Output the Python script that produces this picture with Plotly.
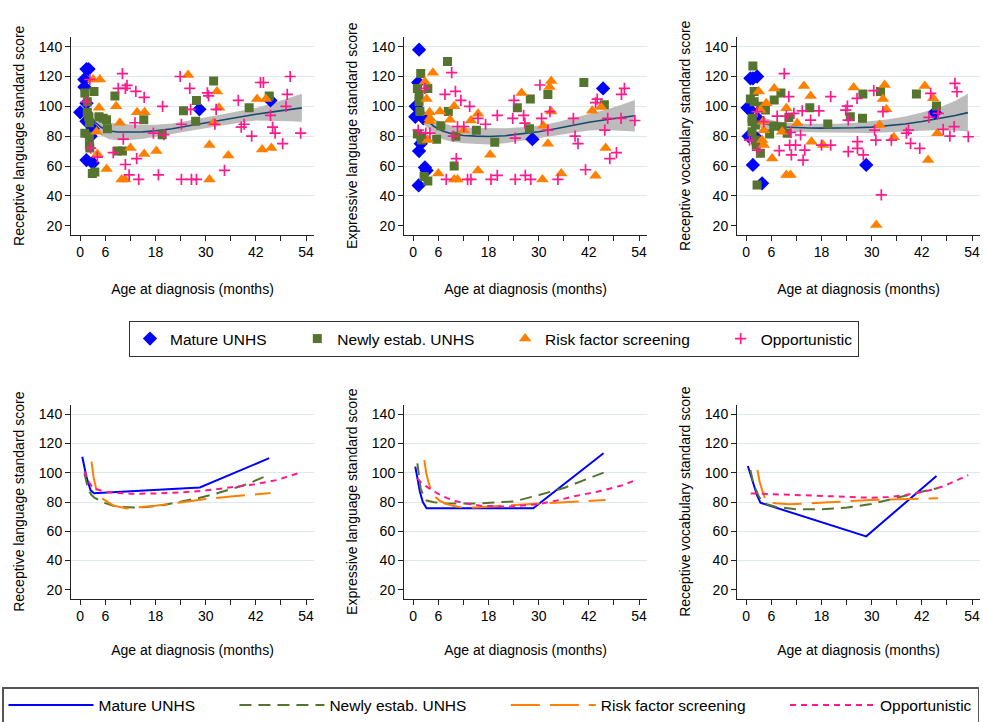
import plotly.graph_objects as go

# ---------------- data ----------------
GROUPS = ["Mature UNHS", "Newly estab. UNHS", "Risk factor screening", "Opportunistic"]
AGE_TICKS = [0, 6, 12, 18, 24, 30, 36, 42, 48, 54]
AGE_TICK_TEXT = ["0", "6", "", "18", "", "30", "", "42", "", "54"]
SCORE_TICKS = [20, 40, 60, 80, 100, 120, 140]
GRID_VALUES = [40, 60, 80, 100, 120, 140]
Y_TITLES = ["Receptive language standard score",
            "Expressive language standard score",
            "Receptive vocabulary standard score"]

# --- Receptive language: individual scores ---
RL_MATURE_X = [1.5, 2.0, 1.0, 1.0, 1.5, 0.0, 1.5, 2.5, 3.0, 1.5, 3.0, 28.5, 45.5]
RL_MATURE_Y = [125, 125, 118, 113, 102, 96, 90, 80, 85, 64, 62, 98, 104]
RL_NEWLY_X = [1.1, 3.3, 1.7, 1.7, 2.0, 2.2, 1.1, 2.2, 2.2, 2.3, 2.9, 3.5, 4.5, 5.5, 6.3, 6.5, 8.3, 8.9,
              10.1, 15.2, 19.6, 24.7, 27.6, 27.8, 31.9, 40.4, 45.2]
RL_NEWLY_Y = [109, 110, 103, 96, 93, 89, 82, 80, 74, 72, 55, 56, 93, 92, 91, 85, 107, 70,
              70, 91, 81, 97, 90, 104, 117, 99, 107]
RL_RISK_X = [3.1, 4.7, 4.5, 3.9, 4.1, 6.3, 8.6, 9.5, 9.9, 10.7, 12.0, 13.6, 15.4, 15.3, 18.2, 25.8,
             30.9, 30.9, 31.9, 32.7, 33.2, 35.4, 42.3, 44.4, 43.5, 45.7]
RL_RISK_Y = [118, 118, 99, 83, 68, 58, 100, 89, 51, 51, 72, 96, 96, 68, 70, 121,
             74, 51, 89, 110, 99, 67, 105, 105, 71, 72]
RL_OPP_X = [2.3, 1.4, 2.5, 4.1, 7.9, 9.1, 10.1, 10.8, 11.2, 10.3, 10.8, 11.7, 13.1, 13.3, 13.5, 14.0,
            15.3, 17.5, 18.7, 19.7, 20.0, 23.9, 24.2, 24.2, 26.2, 26.4, 26.6, 27.8, 30.4, 30.7,
            32.2, 32.5, 34.5, 37.8, 38.5, 39.2, 41.0, 43.1, 43.8, 45.5, 46.0, 46.6, 48.4, 49.2,
            49.5, 50.2, 52.7]
RL_OPP_Y = [118, 103, 72, 66, 69, 112, 122, 112, 114, 78, 61, 54, 89, 110, 65, 51,
            106, 82, 54, 100, 81, 120, 88, 51, 112, 98, 51, 51, 109, 107,
            88, 98, 57, 104, 86, 88, 80, 116, 116, 94, 86, 82, 75, 100,
            108, 120, 82]

# --- Expressive language: individual scores ---
EL_MATURE_X = [1.4, 1.2, 0.6, 0.5, 2.4, 1.4, 1.8, 2.8, 3.2, 1.3, 28.5, 45.4]
EL_MATURE_Y = [138, 116, 100, 93, 92, 70, 75, 59, 57, 47, 78, 112]
EL_NEWLY_X = [8.2, 1.8, 1.0, 1.4, 1.4, 1.6, 3.5, 1.0, 1.8, 2.0, 2.6, 3.5, 5.6, 6.6, 8.4, 10.2, 9.8,
              15.1, 19.5, 24.9, 28.0, 27.8, 32.2, 40.8, 45.7]
EL_NEWLY_Y = [130, 122, 112, 108, 103, 96.5, 112, 81.5, 80, 77.5, 53, 50, 78, 87, 96.5, 80, 60,
              84, 76, 99, 105, 85, 108, 116, 101]
EL_RISK_X = [2.8, 4.7, 3.2, 3.9, 4.0, 3.9, 3.5, 6.4, 6.0, 8.8, 9.8, 9.8, 10.6, 12.1, 13.8, 15.5,
             15.5, 18.4, 25.9, 30.9, 31.1, 32.2, 32.6, 33.0, 33.0, 35.4, 42.8, 43.6, 44.9, 46.0]
EL_RISK_Y = [116.5, 122.6, 105, 96, 92, 90, 77.5, 96.5, 55, 91, 100, 51, 51, 84, 90.5, 95,
             57, 67.5, 109, 51, 87, 75, 113, 117, 96.5, 55, 97, 53.5, 99.5, 72]
EL_OPP_X = [1.2, 2.8, 3.0, 4.0, 7.6, 7.9, 9.2, 9.6, 10.1, 10.3, 10.6, 11.4, 12.1, 13.0, 13.5, 13.8,
            15.5, 17.3, 18.6, 20.1, 20.1, 23.8, 24.1, 24.4, 24.4, 26.4, 26.7, 26.8, 28.1, 30.3,
            30.7, 32.2, 32.7, 34.6, 38.3, 38.7, 39.4, 41.2, 43.6, 44.0, 45.8, 46.5, 47.0, 48.6,
            49.7, 49.8, 50.5, 53.0]
EL_OPP_Y = [84, 112, 82, 82, 108, 51, 122.6, 80, 110, 65, 86.5, 104, 86.5, 51, 100, 51,
            92, 88, 51, 94, 53.7, 92, 104, 51, 78.7, 94, 88.7, 53.7, 51, 114.3,
            92, 84, 96.5, 51, 92, 80, 75, 57.5, 102.5, 104.8, 84, 92, 65, 69,
            92, 108, 112, 90.5]

# --- Receptive vocabulary: individual scores ---
RV_MATURE_X = [1.0, 1.6, 2.6, 0.3, 1.0, 2.7, 0.6, 2.6, 1.6, 3.8, 28.7, 45.1]
RV_MATURE_Y = [118.8, 118.8, 120, 99, 97.5, 92, 80, 78.5, 60.7, 48.4, 60.7, 95.8]
RV_NEWLY_X = [1.6, 1.9, 1.0, 1.9, 3.4, 4.6, 1.4, 1.4, 2.2, 1.4, 2.2, 2.4, 3.4, 2.6, 5.6, 6.6, 6.7,
              8.3, 8.6, 9.8, 10.2, 15.2, 19.5, 24.9, 27.8, 27.9, 32.1, 40.7, 45.5]
RV_NEWLY_Y = [127, 110, 105, 103, 100, 97.5, 92, 89.7, 87.5, 83, 77.4, 74, 68.5, 47.3, 81.5, 86.8,
              104.2, 109, 86.4, 82, 92.6, 99, 88.2, 93, 92, 108.3, 110, 108.3, 100.2]
RV_RISK_X = [3.0, 3.4, 4.0, 4.2, 3.8, 4.2, 4.8, 6.2, 6.7, 8.6, 9.6, 9.6, 10.6, 12.2, 13.8, 15.4,
             15.6, 18.4, 25.7, 31.1, 31.9, 32.7, 33.1, 33.5, 35.3, 42.7, 43.5, 44.7, 45.7]
RV_RISK_Y = [110, 97.5, 89.7, 84, 77.4, 74, 102, 65, 112, 83, 98.7, 54, 54, 88.6, 113.6, 107,
             76.3, 74, 112.7, 20.4, 87.5, 105, 114.3, 98, 79.2, 113.6, 64, 105.4, 82]
RV_OPP_X = [0.8, 2.6, 2.7, 4.2, 7.4, 7.9, 9.1, 9.6, 10.2, 10.6, 10.4, 10.8, 11.4, 11.8, 13.0, 13.4,
            13.6, 14.0, 15.4, 17.4, 18.0, 20.2, 20.2, 23.8, 24.2, 24.4, 24.4, 26.6, 26.6, 26.5,
            28.0, 30.5, 30.7, 31.0, 32.3, 32.7, 34.7, 38.3, 38.8, 39.3, 41.5, 43.7, 44.1, 45.9,
            47.1, 48.7, 49.7, 49.9, 50.4, 53.1]
RV_OPP_Y = [77.4, 96.4, 70.7, 89.7, 93.5, 70.3, 122, 93.5, 106.5, 82.6, 74, 67.4, 95.3, 74, 80.8, 97,
            64, 70.7, 90.8, 97, 74, 74, 106.5, 97.5, 100.2, 90.8, 69.6, 76.3, 71.8, 105.4,
            67.4, 110.5, 84, 77.4, 40.6, 96.4, 77.4, 82, 84, 75.2, 71.8, 92.6, 108.7, 95.3,
            84.6, 80, 86.4, 115.4, 109.8, 79.6]

# --- overall fitted curve with 95% CI (top row) ---
FIT_X = [2.5, 3.5, 5, 7, 9, 12, 15, 18, 22, 26, 30, 34, 38, 42, 46, 50, 53]
RL_FIT = [93, 89.5, 86, 83.5, 82.8, 82.6, 82.9, 83.6, 85, 87, 89, 91, 92.8, 94.7, 96.3, 97.9, 99]
RL_LO = [88, 84.5, 80.5, 78, 77.3, 77.5, 78.3, 79.5, 81.5, 83.5, 85.5, 87.5, 89, 90.5, 90.5, 90, 89.6]
RL_HI = [98, 94.5, 91.5, 89, 88.3, 87.7, 87.5, 87.7, 88.5, 90.5, 92.5, 94.5, 96.6, 98.9, 102.1, 105.8, 108.4]
EL_FIT = [93, 90, 86.5, 83.5, 81.8, 80.5, 80, 79.8, 80.3, 81.5, 83, 85, 87.2, 89.3, 91, 92.5, 93.7]
EL_LO = [88, 85.5, 81.5, 78, 76.5, 75.2, 74.6, 74.4, 75.3, 77, 79, 80.8, 82.4, 83.8, 84.2, 83.8, 83.2]
EL_HI = [98, 94.5, 91.5, 89, 87.1, 85.8, 85.4, 85.2, 85.3, 86, 87, 89.2, 92, 94.8, 97.8, 101.2, 104.2]
RV_FIT = [91, 89.5, 88, 86.8, 86.2, 85.7, 85.5, 85.4, 85.4, 85.6, 86.1, 87, 88.2, 89.8, 91.6, 93.8, 95.8]
RV_LO = [86.5, 85.5, 84.3, 83.4, 83, 82.8, 82.7, 82.6, 82.4, 82.2, 82.2, 82.6, 83.2, 83.8, 84.2, 83.8, 83.2]
RV_HI = [95.5, 93.5, 91.7, 90.2, 89.4, 88.6, 88.3, 88.2, 88.4, 89, 90, 91.4, 93.2, 95.8, 99, 103.8, 108.4]

# --- group-specific fitted curves (bottom row) ---
RL_L_MATURE_X = [0.5, 1.5, 2.5, 3.3, 28.6, 45.2]
RL_L_MATURE_Y = [111, 97, 88, 86, 90, 110]
RL_L_NEWLY_X = [1.0, 1.5, 2.0, 2.7, 3.5, 4.7, 6, 7.9, 10, 13, 16, 20, 24, 28, 32, 36, 40, 45]
RL_L_NEWLY_Y = [99.5, 93, 88, 84.8, 82.8, 80.9, 79.2, 77.4, 76.6, 76.3, 76.6, 78, 80, 82.5, 85.3, 88.6, 92.3, 98.5]
RL_L_RISK_X = [2.7, 3.2, 3.9, 4.6, 5.5, 7, 8, 11.1, 14, 18, 24, 29.9, 36, 42, 45.5]
RL_L_RISK_Y = [107.6, 97, 88, 84.5, 82, 79, 77.5, 75.6, 76.2, 77.5, 79.7, 82, 83.7, 85.2, 86.2]
RL_L_OPP_X = [1.0, 2, 3.1, 4.5, 6, 9, 11.9, 18, 24, 29.9, 36, 41.4, 47, 52]
RL_L_OPP_Y = [101, 94, 89.4, 88, 87, 86.2, 85.7, 85.8, 86.5, 87.8, 89.8, 92, 95, 99.6]

EL_L_MATURE_X = [0.5, 1, 1.6, 2.3, 3.2, 28.7, 45.5]
EL_L_MATURE_Y = [104.2, 95, 87, 80, 75.7, 75.7, 113.3]
EL_L_NEWLY_X = [1, 1.4, 1.8, 2.5, 3.2, 5, 8, 15, 24.1, 30.1, 36.2, 45.7]
EL_L_NEWLY_Y = [106.5, 96, 89, 84, 81, 79.8, 79, 79, 80.4, 84.8, 89.8, 100.3]
EL_L_RISK_X = [2.65, 3.1, 3.6, 4.3, 5.2, 6.3, 7.6, 9.5, 11.7, 15, 20.1, 30, 38, 46]
EL_L_RISK_Y = [108.7, 100, 94, 88, 83.6, 81, 79, 77.5, 76.3, 76.2, 77.3, 79, 80.3, 81.4]
EL_L_OPP_X = [1, 2, 3.2, 4.5, 6, 8, 10, 13, 16, 20, 24, 30.1, 34, 38, 42, 45.8, 50, 53.2]
EL_L_OPP_Y = [96.2, 93, 90.5, 88, 85.5, 82.8, 80.7, 78.8, 77.5, 76.9, 77, 78.6, 80.8, 83.6, 86, 88.2, 91.5, 95]

RV_L_MATURE_X = [0.4, 1.2, 1.9, 2.6, 3.4, 28.7, 45.5]
RV_L_MATURE_Y = [104.6, 97, 90.5, 84.5, 79.5, 56.5, 97.8]
RV_L_NEWLY_X = [1, 1.6, 2.2, 3, 3.8, 5, 7, 9.5, 12.2, 17.8, 24.2, 29.9, 36.3, 41.9, 45.7]
RV_L_NEWLY_Y = [101.9, 94, 89.3, 84, 80.2, 78.5, 76.8, 75.7, 75, 75, 76.3, 78.6, 83.2, 87, 89.4]
RV_L_RISK_X = [2.7, 3.2, 3.8, 4.2, 4.6, 5.5, 7, 10.2, 15, 19.8, 29.9, 38, 45.9]
RV_L_RISK_Y = [101.9, 94, 88.2, 84, 81.4, 80, 79.1, 78.4, 79, 79.8, 81.4, 82.2, 82.5]
RV_L_OPP_X = [1.1, 5, 10.2, 15, 19.8, 25, 29.9, 34, 37.9, 41, 44.7, 47, 49.1, 51, 53.1]
RV_L_OPP_Y = [85.9, 85.6, 85.2, 84.6, 84, 83.4, 82.9, 83.4, 84.7, 86.3, 88.6, 90.6, 93.2, 95.5, 98.4]

# ---------------- styling ----------------
FONT = "Liberation Sans, Arial, Helvetica, sans-serif"
COLORS = ["#0000ff", "#55752f", "#ff8000", "#ff1a8c"]
SYMBOLS = ["diamond", "square", "triangle-up", "cross-thin"]
SIZES = [11, 9, 11, 8]
DASHES = ["solid", "12px,7px", "29px,10px", "6px,5px"]
GRID_COLOR = "#dfe9ec"
FIT_COLOR = "#1a476f"
BAND_COLOR = "#bcbcbc"

X_DOMAINS = [[71 / 983, 314 / 983], [404 / 983, 647 / 983], [737 / 983, 980 / 983]]
Y_DOMAINS = [[1 - 234.6 / 722, 1 - 37 / 722], [1 - 598.5 / 722, 1 - 404.8 / 722]]
X_RANGE = [-2.2, 55.9]
Y_RANGE = [14, 146.5]

top_scatter = [
    [(RL_MATURE_X, RL_MATURE_Y), (RL_NEWLY_X, RL_NEWLY_Y), (RL_RISK_X, RL_RISK_Y), (RL_OPP_X, RL_OPP_Y)],
    [(EL_MATURE_X, EL_MATURE_Y), (EL_NEWLY_X, EL_NEWLY_Y), (EL_RISK_X, EL_RISK_Y), (EL_OPP_X, EL_OPP_Y)],
    [(RV_MATURE_X, RV_MATURE_Y), (RV_NEWLY_X, RV_NEWLY_Y), (RV_RISK_X, RV_RISK_Y), (RV_OPP_X, RV_OPP_Y)],
]
top_fit = [(RL_FIT, RL_LO, RL_HI), (EL_FIT, EL_LO, EL_HI), (RV_FIT, RV_LO, RV_HI)]
bottom_lines = [
    [(RL_L_MATURE_X, RL_L_MATURE_Y), (RL_L_NEWLY_X, RL_L_NEWLY_Y), (RL_L_RISK_X, RL_L_RISK_Y), (RL_L_OPP_X, RL_L_OPP_Y)],
    [(EL_L_MATURE_X, EL_L_MATURE_Y), (EL_L_NEWLY_X, EL_L_NEWLY_Y), (EL_L_RISK_X, EL_L_RISK_Y), (EL_L_OPP_X, EL_L_OPP_Y)],
    [(RV_L_MATURE_X, RV_L_MATURE_Y), (RV_L_NEWLY_X, RV_L_NEWLY_Y), (RV_L_RISK_X, RV_L_RISK_Y), (RV_L_OPP_X, RV_L_OPP_Y)],
]

NBSP = "\u00a0"
LEG1_PAD = [6, 6, 6, 0]
LEG2_PAD = [8, 8, 8, 0]

fig = go.Figure()

# top row: CI band + fit, then the four groups of points
for p in range(3):
    ax = "" if p == 0 else str(p + 1)
    xa, ya = "x" + ax, "y" + ax
    fit, lo, hi = top_fit[p]
    fig.add_trace(go.Scatter(x=FIT_X, y=lo, mode="lines", line=dict(width=0), xaxis=xa, yaxis=ya,
                             showlegend=False, hoverinfo="skip"))
    fig.add_trace(go.Scatter(x=FIT_X, y=hi, mode="lines", line=dict(width=0), fill="tonexty",
                             fillcolor=BAND_COLOR, xaxis=xa, yaxis=ya, showlegend=False, hoverinfo="skip"))
    fig.add_trace(go.Scatter(x=FIT_X, y=fit, mode="lines", line=dict(color=FIT_COLOR, width=1.6),
                             xaxis=xa, yaxis=ya, showlegend=False))
    for g in range(4):
        xs, ys = top_scatter[p][g]
        mk = dict(color=COLORS[g], symbol=SYMBOLS[g], size=SIZES[g])
        if SYMBOLS[g] == "cross-thin":
            mk["line"] = dict(color=COLORS[g], width=1.7)
        else:
            mk["line"] = dict(width=0)
        fig.add_trace(go.Scatter(x=xs, y=ys, mode="markers", marker=mk, xaxis=xa, yaxis=ya,
                                 name=GROUPS[g] + NBSP * LEG1_PAD[g], legend="legend",
                                 showlegend=(p == 0)))

# bottom row: group-specific curves
for p in range(3):
    n = p + 4
    xa, ya = "x" + str(n), "y" + str(n)
    for g in range(4):
        xs, ys = bottom_lines[p][g]
        fig.add_trace(go.Scatter(x=xs, y=ys, mode="lines",
                                 line=dict(color=COLORS[g], width=2, dash=DASHES[g]),
                                 xaxis=xa, yaxis=ya, name=GROUPS[g] + NBSP * LEG2_PAD[g],
                                 legend="legend2", showlegend=(p == 0)))

axis_font = dict(family=FONT, size=14, color="#000")
layout = dict(
    width=983, height=722,
    margin=dict(l=0, r=0, t=0, b=0, autoexpand=False),
    paper_bgcolor="white", plot_bgcolor="white",
    font=dict(family=FONT, size=14, color="#000"),
)
for row in range(2):
    for p in range(3):
        n = row * 3 + p + 1
        sfx = "" if n == 1 else str(n)
        layout["xaxis" + sfx] = dict(
            domain=X_DOMAINS[p], anchor="y" + sfx, range=X_RANGE, automargin=False,
            tickmode="array", tickvals=AGE_TICKS, ticktext=AGE_TICK_TEXT,
            ticks="outside", ticklen=5, tickwidth=1, tickcolor="#222",
            showline=True, linecolor="#222", linewidth=1,
            showgrid=False, zeroline=False, tickfont=axis_font,
            title=dict(text="Age at diagnosis (months)", font=axis_font,
                       standoff=24 if row == 0 else 21),
        )
        layout["yaxis" + sfx] = dict(
            domain=Y_DOMAINS[row], anchor="x" + sfx, range=Y_RANGE, automargin=False,
            tickmode="array", tickvals=SCORE_TICKS,
            ticks="outside", ticklen=5, tickwidth=1, tickcolor="#222",
            showline=True, linecolor="#222", linewidth=1,
            showgrid=False, zeroline=False, tickfont=axis_font,
            minor=dict(tickvals=GRID_VALUES, showgrid=True, gridcolor=GRID_COLOR,
                       gridwidth=1, ticks=""),
            title=dict(text=Y_TITLES[p], font=axis_font, standoff=10),
        )

layout["legend"] = dict(
    orientation="h", x=494 / 983, xanchor="center", y=1 - 321 / 722, yanchor="top",
    bordercolor="#333", borderwidth=1, bgcolor="white", traceorder="normal",
    font=dict(family=FONT, size=15.5, color="#000"), itemwidth=30,
)
layout["legend2"] = dict(
    orientation="h", x=2 / 983, xanchor="left", y=1 - 687 / 722, yanchor="top",
    bordercolor="#555", borderwidth=1.5, bgcolor="white", traceorder="normal",
    font=dict(family=FONT, size=15.5, color="#000"), itemwidth=85,
)
fig.update_layout(**layout)
fig.write_html("out.html", config={"displayModeBar": False},
               post_script="document.body.style.margin='0';document.body.style.padding='0';")
